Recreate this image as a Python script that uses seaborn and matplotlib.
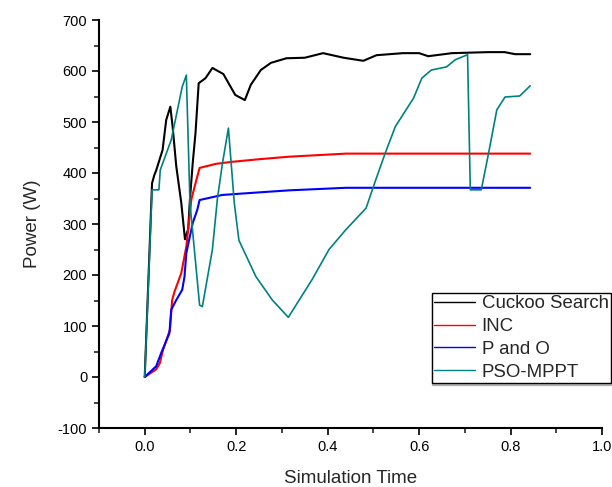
import numpy as np
import matplotlib
matplotlib.use("Agg")
import matplotlib.pyplot as plt
import seaborn as sns
from matplotlib.ticker import MultipleLocator

# data
cs_t = [0, 0.016, 0.021, 0.025, 0.039, 0.047, 0.056, 0.061, 0.069, 0.080, 0.088, 0.095,
        0.099, 0.105, 0.111, 0.118, 0.133, 0.148, 0.172, 0.198, 0.219, 0.232, 0.254,
        0.276, 0.31, 0.35, 0.39, 0.435, 0.478, 0.507, 0.565, 0.60, 0.62, 0.672, 0.75,
        0.787, 0.81, 0.843]
cs_p = [0, 380, 396, 405, 445, 504, 530, 491, 413, 341, 270, 290,
        350, 420, 478, 576, 586, 606, 594, 553, 543, 573, 602,
        616, 625, 626, 635, 626, 620, 631, 635, 635, 629, 635, 637,
        637, 633, 633]

inc_t = [0, 0.025, 0.033, 0.04, 0.055, 0.06, 0.065, 0.08, 0.091, 0.102, 0.109, 0.12,
         0.156, 0.192, 0.25, 0.316, 0.44, 0.843]
inc_p = [0, 15, 27, 53, 92, 151, 167, 204, 256, 348, 373, 410,
         418, 422, 427, 432, 438, 438]

po_t = [0, 0.025, 0.036, 0.054, 0.058, 0.069, 0.082, 0.087, 0.091, 0.105, 0.115, 0.12,
        0.17, 0.25, 0.316, 0.44, 0.843]
po_p = [0, 21, 47, 86, 132, 151, 171, 197, 243, 302, 328, 347,
        357, 362, 366, 371, 371]

pso_t = [0, 0.016, 0.031, 0.034, 0.058, 0.082, 0.091, 0.099, 0.12, 0.126, 0.148, 0.159,
         0.17, 0.183, 0.196, 0.206, 0.243, 0.279, 0.314, 0.366, 0.403, 0.439, 0.484,
         0.505, 0.526, 0.548, 0.588, 0.606, 0.627, 0.66, 0.679, 0.706, 0.712, 0.736,
         0.752, 0.77, 0.788, 0.82, 0.843]
pso_p = [0, 367, 367, 406, 465, 569, 592, 340, 141, 138, 250, 350,
         419, 488, 340, 268, 197, 151, 117, 191, 250, 288, 331,
         386, 439, 491, 547, 586, 602, 608, 622, 632, 367, 367,
         439, 524, 549, 551, 571]

series = [
    ("Cuckoo Search", cs_t, cs_p, "black", 1.5),
    ("INC", inc_t, inc_p, "#ff0000", 1.5),
    ("P and O", po_t, po_p, "#0000ff", 1.5),
    ("PSO-MPPT", pso_t, pso_p, "#008080", 1.2),
]

sns.set_style("ticks")
plt.rcParams['font.family'] = ['Liberation Sans', 'DejaVu Sans']
plt.rcParams['axes.unicode_minus'] = False

fig = plt.figure(figsize=(6.12, 4.87), dpi=100)
ax = fig.add_axes([99 / 612, 1 - 428 / 487, 503 / 612, 408 / 487])

for name, t, p, c, lw in series:
    sns.lineplot(x=t, y=p, color=c, linewidth=lw, label=name, ax=ax, estimator=None)

ax.set_xlim(-0.1, 1.0)
ax.set_ylim(-100, 700)
ax.xaxis.set_major_locator(MultipleLocator(0.2))
ax.xaxis.set_minor_locator(MultipleLocator(0.1))
ax.yaxis.set_major_locator(MultipleLocator(100))
ax.yaxis.set_minor_locator(MultipleLocator(50))
ax.set_xticks(np.arange(0, 1.01, 0.2))
ax.xaxis.set_major_formatter(plt.FuncFormatter(lambda v, _: f"{v:.1f}"))

sns.despine(ax=ax)
for s in ["left", "bottom"]:
    ax.spines[s].set_linewidth(1.5)
    ax.spines[s].set_color("black")
ax.tick_params(which="major", length=5, width=1.2, labelsize=10.5, colors="black")
ax.tick_params(which="minor", length=3.5, width=1.2)

ax.set_xlabel("Simulation Time", fontsize=13.5, labelpad=12)
ax.set_ylabel("Power (W)", fontsize=13.5, labelpad=12)

leg = ax.legend(loc="upper left", bbox_to_anchor=(432 / 612, 1 - 293 / 487),
                bbox_transform=fig.transFigure, fontsize=13.4, frameon=True,
                fancybox=False, borderaxespad=0, borderpad=0.12, labelspacing=0.31,
                handlelength=2.2, handletextpad=0.35,
                shadow={'ox': 0, 'oy': -1.5, 'shade': 0.5})
leg.get_frame().set_edgecolor("black")
leg.get_frame().set_linewidth(1.0)
for h in leg.get_lines():
    h.set_linewidth(1.0)

fig.savefig("out.png", dpi=100)
